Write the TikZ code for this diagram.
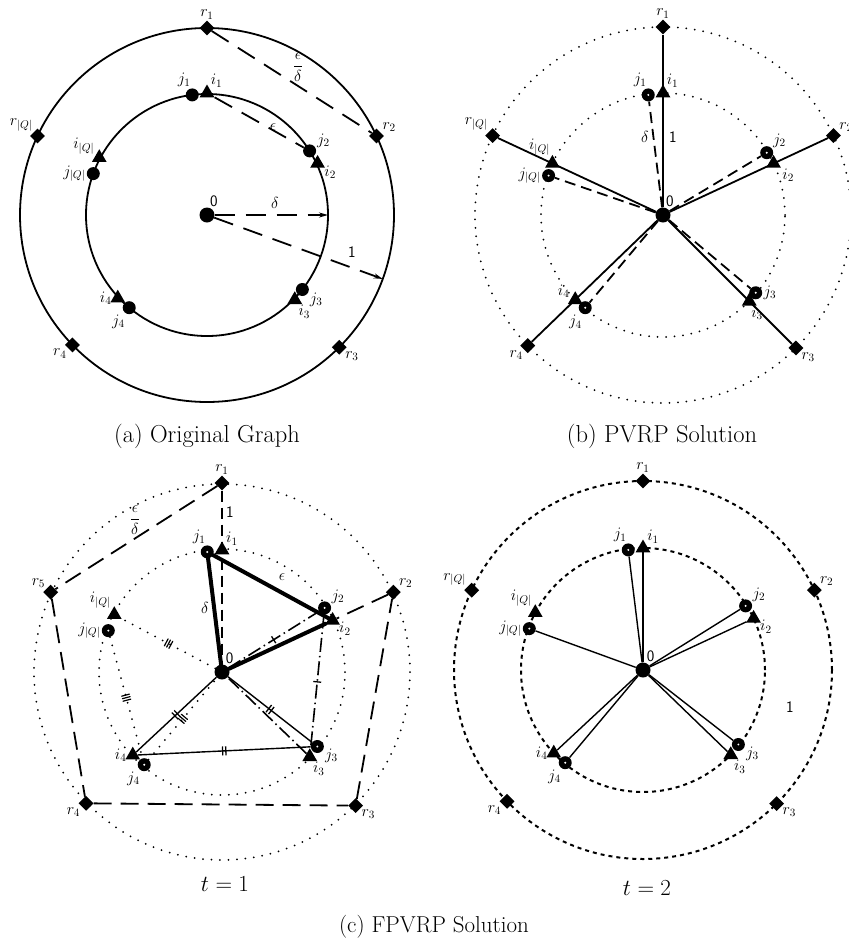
\RequirePackage{fix-cm}
\documentclass[tikz,border=0pt]{standalone}
\usepackage{amsmath}
\usepackage{fontspec}
\usetikzlibrary{shapes.geometric,arrows.meta,decorations.markings}
\pgfdeclarelayer{background}
\pgfsetlayers{background,main}
\newcommand\lblf{\fontsize{16}{19}\selectfont}
\newcommand\sanf{\fontsize{16}{19}\selectfont\sffamily}
\newcommand\capf{\fontsize{23}{27}\selectfont}
\newcommand\capbigf{\fontsize{24.5}{29}\selectfont}
\begin{document}
\begin{tikzpicture}[x=1pt,y=-1pt,
  dep/.style={circle,fill=black,minimum size=15pt,inner sep=0pt},
  jn/.style={circle,fill=black,minimum size=13pt,inner sep=0pt},
  jr/.style={jn,path picture={\fill[white] (path picture bounding box.center) circle (1.1pt);}},
  tri/.style={regular polygon,regular polygon sides=3,fill=black,minimum size=17pt,inner sep=0pt},
  rd/.style={diamond,fill=black,minimum size=15pt,inner sep=0pt},
  lab/.style={font=\lblf,inner sep=1pt},
  sanlab/.style={font=\sanf,inner sep=1pt},
  circln/.style={line width=1.8pt},
  dotln/.style={line width=2pt,line cap=round,dash pattern=on 0pt off 8.5pt},
  shortdash/.style={line width=2pt,dash pattern=on 4pt off 4pt},
  dasha/.style={line width=1.8pt,dash pattern=on 20pt off 11pt},
  dashb/.style={line width=1.8pt,dash pattern=on 11pt off 6pt},
  dashc/.style={line width=1.8pt,dash pattern=on 18pt off 9pt},
  dashdotln/.style={line width=1.6pt,dash pattern=on 14pt off 4pt on 1.5pt off 4pt},
  solidln/.style={line width=1.8pt},
  thk/.style={line width=4pt,line cap=round},
  thn/.style={line width=1.4pt},
  tickone/.style={postaction={decorate,decoration={markings,mark=at position 0.5 with {\draw[solid,line width=1.3pt] (0,-4)--(0,4);}}}},
  ticktwo/.style={postaction={decorate,decoration={markings,mark=at position 0.5 with {\draw[solid,line width=1.3pt] (-1.6,-4.5)--(-1.6,4.5) (1.6,-4.5)--(1.6,4.5);}}}},
  tickthree/.style={postaction={decorate,decoration={markings,mark=at position 0.5 with {\draw[solid,line width=1.2pt] (-2.6,-4)--(-2.6,4) (0,-4)--(0,4) (2.6,-4)--(2.6,4);}}}},
  arr/.style={-{Stealth[length=9pt,width=5pt]}}
]
\useasboundingbox (0,0) rectangle (849,943);

%================ (a) =================
\begin{scope}[shift={(207,215)},yscale=-1]
  \node[dep,label={[sanlab]75:0}] (da) at (0,0) {};
  \node[rd,label={[lab]90:$r_1$}] (ra1) at (90:187) {};
  \node[rd,label={[lab]30:$r_2$}] (ra2) at (25:187) {};
  \node[rd,label={[lab]-30:$r_3$}] (ra3) at (-45:187) {};
  \node[rd,label={[lab]210:$r_4$}] (ra4) at (224:187) {};
  \node[rd,label={[lab]135:$r_{|Q|}$}] (raq) at (155:187) {};
  \node[tri,label={[lab]60:$i_1$}] (ia1) at (90:122) {};
  \node[tri,label={[lab]-10:$i_2$}] (ia2) at (25:122) {};
  \node[tri,label={[lab]-60:$i_3$}] (ia3) at (-44:122) {};
  \node[tri,label={[lab]180:$i_4$}] (ia4) at (223:122) {};
  \node[tri,label={[lab]150:$i_{|Q|}$}] (iaq) at (152:122) {};
  \node[jn,label={[lab]95:$j_1$}] (ja1) at (97:121) {};
  \node[jn,label={[lab]20:$j_2$}] (ja2) at (32:121) {};
  \node[jn,label={[lab]-20:$j_3$}] (ja3) at (-38:121) {};
  \node[jn,label={[lab]240:$j_4$}] (ja4) at (230:121) {};
  \node[jn,label={[lab]180:$j_{|Q|}$}] (jaq) at (160:121) {};
  \coordinate (ca1) at (0:121);
  \coordinate (ca2) at (-20:187);
  \begin{pgfonlayer}{background}
    \draw[circln] (0,0) circle (121) (0,0) circle (187);
    \draw[dasha] (ra1) -- (ra2);
    \draw[dasha] (ia1) -- (ja2);
    \draw[dasha,arr] (da) -- (ca1);
    \draw[dasha,arr] (da) -- (ca2);
  \end{pgfonlayer}
\end{scope}
\node[lab] (fa) at (298,67) {$\dfrac{\epsilon}{\delta}$};
\node[lab] (ea) at (273,127) {$\epsilon$};
\node[lab] (dla) at (275,203) {$\delta$};
\node[sanlab] (oa) at (352,252) {1};
\node[font=\capbigf] (capa) at (207,436) {(a) Original Graph};

%================ (b) =================
\begin{scope}[shift={(663,215)},yscale=-1]
  \node[dep,label={[sanlab]75:0}] (db) at (0,0) {};
  \node[rd,label={[lab]90:$r_1$}] (rb1) at (90:188) {};
  \node[rd,label={[lab]30:$r_2$}] (rb2) at (25:188) {};
  \node[rd,label={[lab]-35:$r_3$}] (rb3) at (-45:188) {};
  \node[rd,label={[lab]225:$r_4$}] (rb4) at (224:188) {};
  \node[rd,label={[lab]135:$r_{|Q|}$}] (rbq) at (155:188) {};
  \node[tri,label={[lab]60:$i_1$}] (ib1) at (90:122) {};
  \node[tri,label={[lab]-30:$i_2$}] (ib2) at (25:122) {};
  \node[tri,label={[lab]-80:$i_3$}] (ib3) at (-45:122) {};
  \node[tri,label={[lab]170:$i_4$}] (ib4) at (224:122) {};
  \node[tri,label={[lab]100:$i_{|Q|}$}] (ibq) at (155:122) {};
  \node[jr,label={[lab]95:$j_1$}] (jb1) at (97:121) {};
  \node[jr,label={[lab]40:$j_2$}] (jb2) at (31:121) {};
  \node[jr,label={[lab]0:$j_3$}] (jb3) at (-40:121) {};
  \node[jr,label={[lab]250:$j_4$}] (jb4) at (230:121) {};
  \node[jr,label={[lab]180:$j_{|Q|}$}] (jbq) at (161:121) {};
  \begin{pgfonlayer}{background}
    \draw[dotln] (0,0) circle (122) (0,0) circle (188);
    \draw[solidln] (db) -- (rb1);
    \draw[solidln] (db) -- (rb2);
    \draw[solidln] (db) -- (rb3);
    \draw[solidln] (db) -- (rb4);
    \draw[solidln] (db) -- (rbq);
    \draw[dashb] (db) -- (jb1);
    \draw[dashb] (db) -- (jb2);
    \draw[dashb] (db) -- (jb3);
    \draw[dashb] (db) -- (jb4);
    \draw[dashb] (db) -- (jbq);
  \end{pgfonlayer}
\end{scope}
\node[lab] (dlb) at (645,137) {$\delta$};
\node[sanlab] (ob) at (673,137) {1};
\node[font=\capbigf] (capb) at (662,436) {(b) PVRP Solution};

%================ (c) t=1 =================
\begin{scope}[shift={(222,672)},yscale=-1]
  \node[dep,label={[sanlab]70:0}] (dc) at (0,0) {};
  \node[rd,label={[lab]90:$r_1$}] (rc1) at (90:189) {};
  \node[rd,label={[lab]35:$r_2$}] (rc2) at (25:189) {};
  \node[rd,label={[lab]-30:$r_3$}] (rc3) at (-45:189) {};
  \node[rd,label={[lab]210:$r_4$}] (rc4) at (224:189) {};
  \node[rd,label={[lab]145:$r_5$}] (rc5) at (155:189) {};
  \node[tri,label={[lab]50:$i_1$}] (ic1) at (90:122) {};
  \node[tri,label={[lab]-5:$i_2$}] (ic2) at (25:122) {};
  \node[tri,label={[lab]-65:$i_3$}] (ic3) at (-44:122) {};
  \node[tri,label={[lab]180:$i_4$}] (ic4) at (223:122) {};
  \node[tri,label={[lab]115:$i_{|Q|}$}] (icq) at (152:122) {};
  \node[jr,label={[lab]95:$j_1$}] (jc1) at (97:121) {};
  \node[jr,label={[lab]30:$j_2$}] (jc2) at (32:121) {};
  \node[jr,label={[lab]-10:$j_3$}] (jc3) at (-38:121) {};
  \node[jr,label={[lab]240:$j_4$}] (jc4) at (230:121) {};
  \node[jr,label={[lab]180:$j_{|Q|}$}] (jcq) at (160:121) {};
  \begin{pgfonlayer}{background}
    \draw[dotln] (0,0) circle (123) (0,0) circle (188);
    \draw[dashb] (rc1) -- (dc);
    \draw[dashc] (rc1) -- (rc5);
    \draw[dashc] (rc5) -- (rc4);
    \draw[dashc] (rc4) -- (rc3);
    \draw[dashc] (rc3) -- (rc2);
    \draw[dashc] (rc2) -- (ic2);
    \draw[dashdotln,tickone] (dc) -- (jc2);
    \draw[dashdotln,tickone] (jc2) -- (ic3);
    \draw[dashdotln] (ic3) -- (dc);
    \draw[thn,ticktwo] (dc) -- (jc3);
    \draw[thn,ticktwo] (jc3) -- (ic4);
    \draw[thn,ticktwo] (ic4) -- (dc);
    \draw[dotln,tickthree] (dc) -- (icq);
    \draw[dotln,tickthree] (jcq) -- (jc4);
    \draw[dotln,tickthree] (jc4) -- (dc);
    \draw[thk] (dc) -- (jc1);
    \draw[thk] (jc1) -- (ic2);
    \draw[thk] (ic2) -- (dc);
  \end{pgfonlayer}
\end{scope}
\node[sanlab] (oc) at (230,512) {1};
\node[lab] (fc) at (135,520) {$\dfrac{\epsilon}{\delta}$};
\node[lab] (ec) at (282,577) {$\epsilon$};
\node[lab] (dlc) at (205,608) {$\delta$};
\node[font=\capf] (capt1) at (225,884) {$t=1$};

%================ (c) t=2 =================
\begin{scope}[shift={(643,670)},yscale=-1]
  \node[dep,label={[sanlab]70:0}] (dd) at (0,0) {};
  \node[rd,label={[lab]90:$r_1$}] (rd1) at (90:189) {};
  \node[rd,label={[lab]35:$r_2$}] (rd2) at (25:189) {};
  \node[rd,label={[lab]-30:$r_3$}] (rd3) at (-45:189) {};
  \node[rd,label={[lab]210:$r_4$}] (rd4) at (224:189) {};
  \node[rd,label={[lab]145:$r_{|Q|}$}] (rdq) at (155:189) {};
  \node[tri,label={[lab]50:$i_1$}] (id1) at (90:122) {};
  \node[tri,label={[lab]-5:$i_2$}] (id2) at (25:122) {};
  \node[tri,label={[lab]-65:$i_3$}] (id3) at (-44:122) {};
  \node[tri,label={[lab]180:$i_4$}] (id4) at (223:122) {};
  \node[tri,label={[lab]115:$i_{|Q|}$}] (idq) at (152:122) {};
  \node[jr,label={[lab]95:$j_1$}] (jd1) at (97:121) {};
  \node[jr,label={[lab]30:$j_2$}] (jd2) at (32:121) {};
  \node[jr,label={[lab]-10:$j_3$}] (jd3) at (-38:121) {};
  \node[jr,label={[lab]240:$j_4$}] (jd4) at (230:121) {};
  \node[jr,label={[lab]180:$j_{|Q|}$}] (jdq) at (160:121) {};
  \begin{pgfonlayer}{background}
    \draw[shortdash] (0,0) circle (122) (0,0) circle (189);
    \draw[thn] (dd) -- (jd1);
    \draw[thn] (dd) -- (id1);
    \draw[thn] (dd) -- (jd2);
    \draw[thn] (dd) -- (id2);
    \draw[thn] (dd) -- (jd3);
    \draw[thn] (dd) -- (id3);
    \draw[thn] (dd) -- (jd4);
    \draw[thn] (dd) -- (id4);
    \draw[thn] (dd) -- (jdq);
  \end{pgfonlayer}
\end{scope}
\node[sanlab] (od) at (790,707) {1};
\node[font=\capf] (capt2) at (647,888) {$t=2$};
\node[font=\capf] (capc) at (434,927) {(c) FPVRP Solution};
\end{tikzpicture}
\end{document}
